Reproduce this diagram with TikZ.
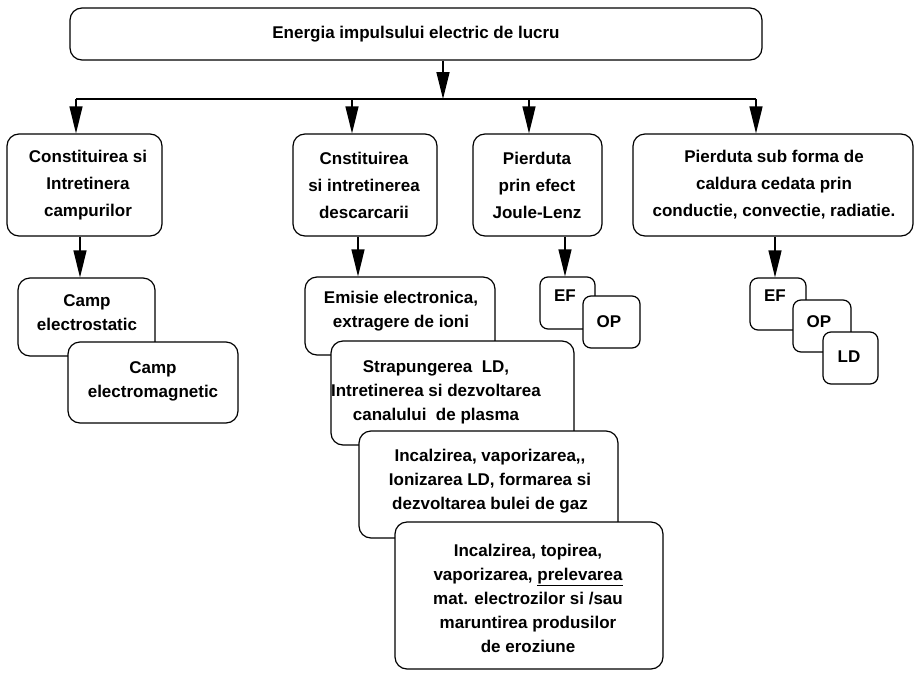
\documentclass[tikz,border=0pt]{standalone}
\usepackage{fontspec}
\setmainfont{Liberation Sans}
\usetikzlibrary{arrows.meta}

\tikzset{
  boxnode/.style={draw, line width=1.2pt, rounded corners=12pt, fill=white, inner sep=0pt},
  smallbox/.style={boxnode, rounded corners=8pt},
  label/.style={align=center, inner sep=0pt, font=\fontsize{17}{24}\selectfont\bfseries},
  widelabel/.style={label, font=\fontsize{17}{27}\selectfont\bfseries},
  wire/.style={line width=1.4pt},
  arr/.style={wire, -{Triangle[width=13pt,length=27pt]}},
}

\begin{document}
\begin{tikzpicture}[x=1pt, y=-1pt]
\useasboundingbox (0,0) rectangle (918,672);

% top level
\node[boxnode, minimum width=692pt, minimum height=52pt] (top) at (416,34) {};
\node[label] (top-t) at (416,34) {Energia impulsului electric de lucru};

% second row
\node[boxnode, minimum width=155pt, minimum height=102pt] (A) at (84.5,185) {};
\node[widelabel] (A-t) at (88,185) {Constituirea si\\Intretinera\\campurilor};

\node[boxnode, minimum width=144pt, minimum height=102pt] (B) at (365,185) {};
\node[widelabel] (B-t) at (364,185) {Cnstituirea\\si intretinerea\\descarcarii};

\node[boxnode, minimum width=129pt, minimum height=102pt] (C) at (537.5,185) {};
\node[widelabel] (C-t) at (537,185) {Pierduta\\prin efect\\Joule-Lenz};

\node[boxnode, minimum width=280pt, minimum height=102pt] (D) at (773,185) {};
\node[widelabel] (D-t) at (774,185) {Pierduta sub forma de\\caldura cedata prin\\conductie, convectie, radiatie.};

% fields
\node[boxnode, minimum width=137pt, minimum height=78pt] (ces) at (86.5,317) {};
\node[label] (ces-t) at (87,313) {Camp\\electrostatic};
\node[boxnode, minimum width=170pt, minimum height=81pt] (cem) at (153,382.5) {};
\node[label] (cem-t) at (153,381) {Camp\\electromagnetic};

% discharge stages
\node[boxnode, minimum width=190pt, minimum height=78pt] (emi) at (400,316) {};
\node[label] (emi-t) at (401,311) {Emisie electronica,\\extragere de ioni};
\node[boxnode, minimum width=243pt, minimum height=104pt] (str) at (452.5,393) {};
\node[label] (str-t) at (436,392) {Strapungerea\ \ LD,\\Intretinerea si dezvoltarea\\canalului\ \ de plasma};
\node[boxnode, minimum width=259pt, minimum height=107pt] (inc) at (488.5,484.5) {};
\node[label] (inc-t) at (490,481) {Incalzirea, vaporizarea,{},\\Ionizarea LD, formarea si\\dezvoltarea bulei de gaz};
\node[boxnode, minimum width=268pt, minimum height=147pt] (top2) at (529,595.5) {};
\node[label] (top2-t) at (528,598) {Incalzirea, topirea,\\vaporizarea, \underline{prelevarea}\\mat. electrozilor si /sau\\maruntirea produsilor\\de eroziune};

% Joule-Lenz losses
\node[smallbox, minimum width=55pt, minimum height=52pt] (efc) at (567.5,303) {};
\node[label] (efc-t) at (565,296) {EF};
\node[smallbox, minimum width=57pt, minimum height=52pt] (opc) at (611.5,322) {};
\node[label] (opc-t) at (609,322) {OP};

% heat losses
\node[smallbox, minimum width=56pt, minimum height=52pt] (efd) at (778,304) {};
\node[label] (efd-t) at (775,296) {EF};
\node[smallbox, minimum width=58pt, minimum height=52pt] (opd) at (822,326) {};
\node[label] (opd-t) at (819,322) {OP};
\node[smallbox, minimum width=55pt, minimum height=52pt] (ld) at (850.5,358) {};
\node[label] (ld-t) at (849,357) {LD};

% distribution bar
\coordinate (bar) at (443,99);
\coordinate (barA) at (76,99);
\coordinate (barB) at (352,99);
\coordinate (barC) at (529,99);
\coordinate (barD) at (756,99);

\draw[arr] (top.south -| bar) -- (bar);
\draw[wire] (barA) -- (barD);
\draw[arr] (barA) -- (barA |- A.north);
\draw[arr] (barB) -- (barB |- B.north);
\draw[arr] (barC) -- (barC |- C.north);
\draw[arr] (barD) -- (barD |- D.north);

% branch arrows
\coordinate (dA) at (80,0);
\coordinate (dB) at (358,0);
\coordinate (dC) at (565,0);
\coordinate (dD) at (775,0);
\draw[arr] (dA |- A.south) -- (dA |- ces.north);
\draw[arr] (dB |- B.south) -- (dB |- emi.north);
\draw[arr] (dC |- C.south) -- (dC |- efc.north);
\draw[arr] (dD |- D.south) -- (dD |- efd.north);
\end{tikzpicture}
\end{document}
